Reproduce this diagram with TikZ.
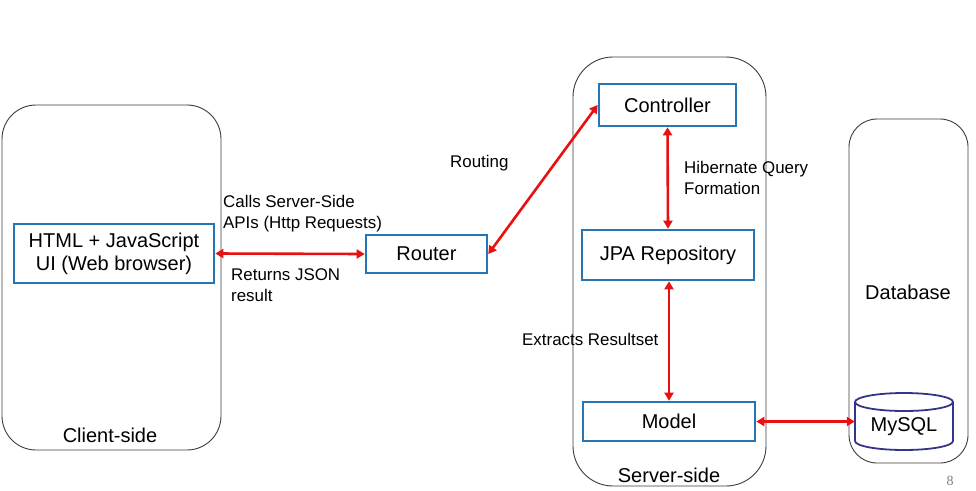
\documentclass[tikz,border=0pt]{standalone}
\usepackage{fontspec}
\setmainfont{Liberation Sans}
\newfontfamily\pagefont{Liberation Serif}
\usetikzlibrary{arrows.meta}
\definecolor{boxblue}{RGB}{38,118,182}
\definecolor{arrred}{RGB}{232,16,16}
\definecolor{cylblue}{RGB}{52,52,140}
\definecolor{framegray}{RGB}{60,60,60}
\tikzset{
  container/.style={draw=framegray, line width=0.9pt, rounded corners=34pt},
  compbox/.style={draw=boxblue, line width=2.6pt, inner sep=0pt, align=center,
    font=\fontsize{20}{23}\selectfont},
  biarrow/.style={draw=arrred, line width=2.6pt,
    {Triangle[length=8pt,width=9pt]}-{Triangle[length=8pt,width=9pt]}},
  lbl/.style={font=\fontsize{16.9}{21}\selectfont, align=left, inner sep=0pt},
  bigl/.style={font=\fontsize{20}{23}\selectfont, inner sep=0pt},
  cyl/.style={draw=cylblue, line width=1.8pt},
}
\begin{document}
\begin{tikzpicture}[x=1pt,y=-1pt]
\useasboundingbox[fill=white] (0,0) rectangle (976,490);
% containers
\draw[container] (2,105) rectangle (221,450);
\draw[container, rounded corners=40pt] (573,57) rectangle (766,486);
\draw[container, rounded corners=28pt] (849,119) rectangle (968,463);
\node[bigl] (clientlbl) at (110,435) {Client-side};
\node[bigl] (serverlbl) at (669,475) {Server-side};
\node[bigl] (dblbl) at (908,292) {Database};
% component boxes
\node[compbox, minimum width=200pt, minimum height=59pt] (html) at (114,253.5) {HTML + JavaScript\\UI (Web browser)};
\node[compbox, minimum width=121pt, minimum height=38pt] (router) at (426.5,254) {Router};
\node[compbox, minimum width=137pt, minimum height=42pt] (ctrl) at (667.5,105) {Controller};
\node[compbox, minimum width=172pt, minimum height=50pt] (jpa) at (668,255) {JPA Repository};
\node[compbox, minimum width=172pt, minimum height=39pt] (model) at (669,421.5) {Model};
% MySQL cylinder
\node[minimum width=98pt, minimum height=57pt, inner sep=0pt] (mysql) at (904,421.5) {};
\draw[cyl] (855,402) -- (855,441) arc[start angle=180, end angle=0, x radius=49, y radius=9] -- (953,402);
\draw[cyl] (904,402) ellipse[x radius=49, y radius=9];
\node[bigl] (mysqltxt) at (904,427) {MySQL};
% connectors
\draw[biarrow] (html.east) -- (router.west);
\draw[biarrow] (router.east) -- (ctrl.west);
\draw[biarrow] (ctrl.south) -- (jpa.north);
\draw[biarrow] (jpa.south -| model.north) -- (model.north);
\draw[biarrow] (model.east) -- (mysql.west);
% labels
\node[lbl, anchor=west] (routing) at (450,163) {Routing};
\node[lbl, anchor=west] (calls) at (223,213.5) {Calls Server-Side\\APIs (Http Requests)};
\node[lbl, anchor=west] (returns) at (231,285.5) {Returns JSON\\result};
\node[lbl, anchor=west] (hib) at (684,178) {Hibernate Query\\Formation};
\node[lbl, anchor=west] (extr) at (522,339) {Extracts Resultset};
\node[font=\pagefont\fontsize{14}{16}\selectfont, text=gray, inner sep=0pt] (pnum) at (950,481) {8};
\end{tikzpicture}
\end{document}
